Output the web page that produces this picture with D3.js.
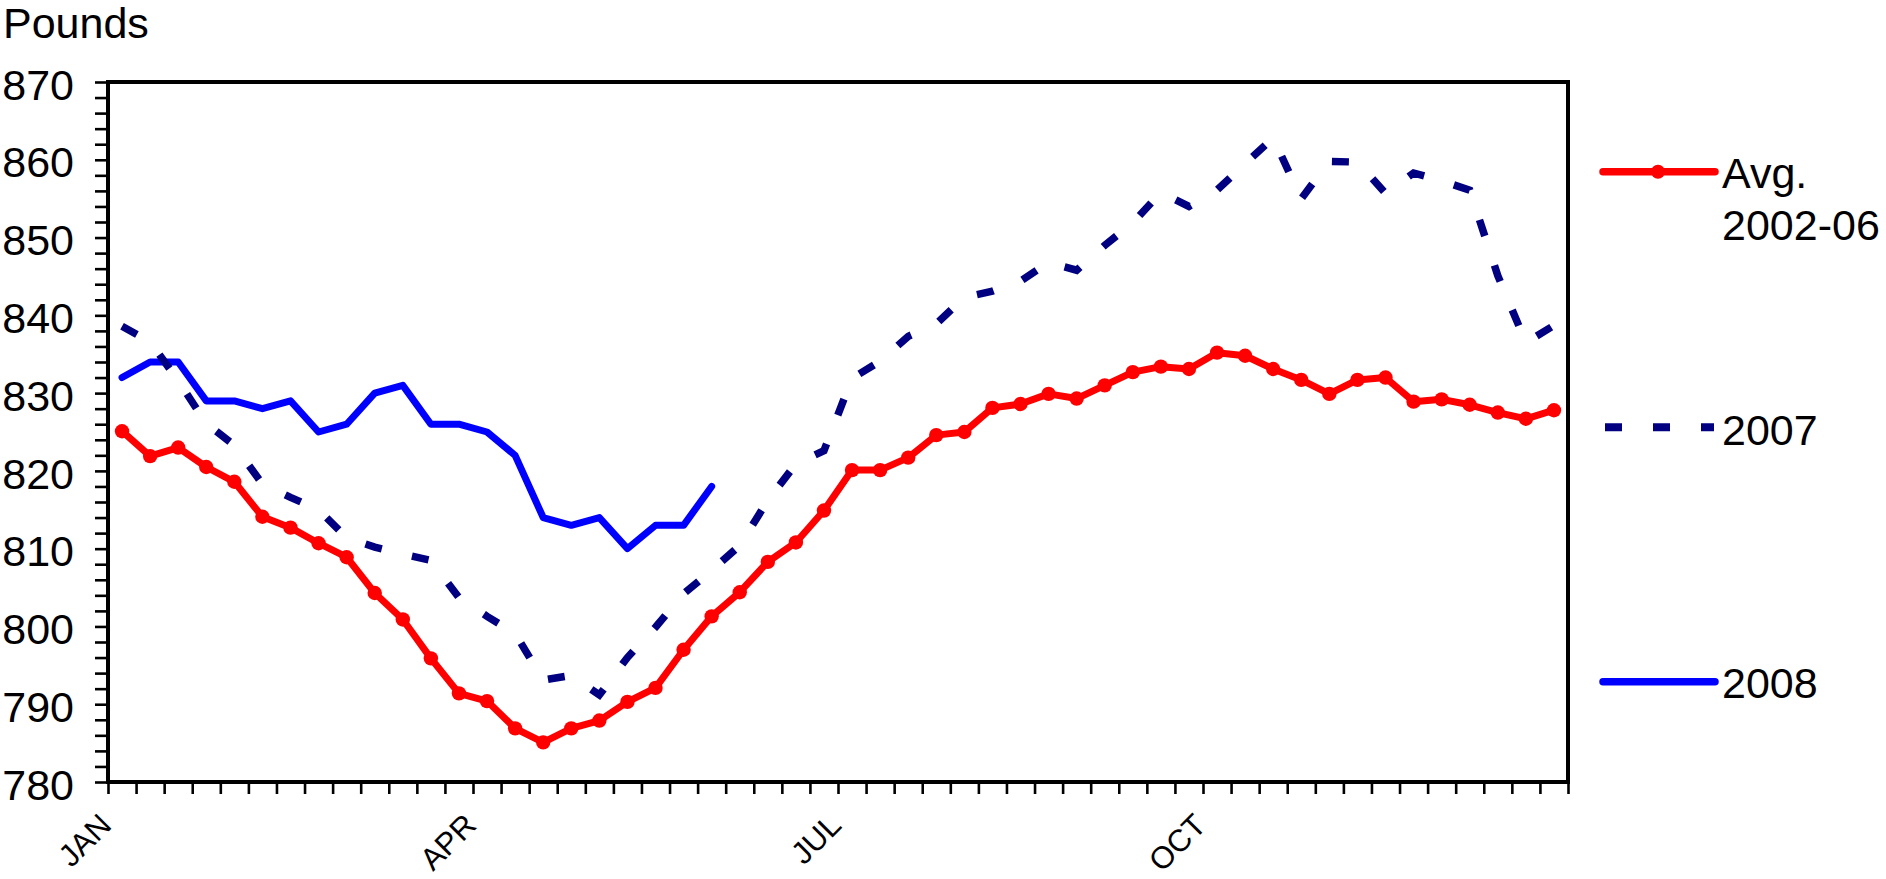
<!DOCTYPE html>
<html>
<head>
<meta charset="utf-8">
<script src="https://cdn.jsdelivr.net/npm/d3@7"></script>
<style>
  html, body { margin: 0; padding: 0; background: #fff; }
  svg { display: block; }
  text { font-family: "Liberation Sans", Arial, sans-serif; fill: #000; }
</style>
</head>
<body>
<svg id="chart" width="1886" height="879"></svg>
<script>
// ---- data ----
const weeks = d3.range(1, 53); // week categories 1..52
const monthLabels = ["JAN", "APR", "JUL", "OCT"];
const monthBoundaries = [0, 13, 26, 39];
const yTickLabels = [780, 790, 800, 810, 820, 830, 840, 850, 860, 870];

const avg0206 = [825.1, 821.9, 823.0, 820.5, 818.6, 814.1, 812.7, 810.7, 808.9, 804.3,
                 800.9, 795.9, 791.4, 790.4, 786.9, 785.1, 786.9, 787.9, 790.3, 792.1,
                 797.0, 801.3, 804.4, 808.3, 810.8, 814.9, 820.1, 820.1, 821.7, 824.6,
                 825.0, 828.1, 828.6, 829.9, 829.3, 831.0, 832.7, 833.4, 833.1, 835.2,
                 834.8, 833.1, 831.7, 829.9, 831.7, 832.0, 828.9, 829.2, 828.5, 827.5,
                 826.7, 827.8];
const y2007 = [838.6, 836.6, 831.6, 826.1, 823.3, 818.3, 816.6, 815.0, 811.4, 810.2,
               809.3, 808.5, 803.7, 801.3, 799.1, 793.1, 793.7, 791.2, 796.0, 799.9,
               804.2, 807.2, 810.4, 816.2, 820.9, 822.6, 831.9, 834.1, 837.3, 838.9,
               842.3, 843.1, 844.4, 846.8, 845.8, 849.0, 851.9, 855.8, 854.0, 856.1,
               859.5, 862.8, 855.0, 859.8, 859.7, 855.7, 858.3, 857.3, 856.1, 845.1,
               836.5, 838.7];
const y2008 = [832, 834, 834, 829, 829, 828, 829, 825, 826, 830,
               831, 826, 826, 825, 822, 814, 813, 814, 810, 813,
               813, 818];

const seriesNames = ["Avg.", "2002-06", "2007", "2008"];

// ---- layout ----
const svg = d3.select("#chart");
const L = 108, R = 1568, T = 82, B = 782;

const x = d3.scaleLinear().domain([0, weeks.length]).range([L, R]);
const y = d3.scaleLinear().domain([780, 870]).range([B, T]);
const px = (d, i) => x(i + 0.5);

// Y axis
const yAxis = d3.axisLeft(y)
  .tickValues(d3.range(780, 871, 2))
  .tickSize(13)
  .tickPadding(21)
  .tickFormat(d => yTickLabels.includes(d) ? d : "");
const gy = svg.append("g").attr("transform", `translate(${L},0)`).call(yAxis);
gy.select(".domain").remove();
gy.selectAll(".tick line").attr("stroke", "#000").attr("stroke-width", 2.6);
gy.selectAll(".tick text")
  .attr("dy", "0.4em")
  .style("font-size", "43px")
  .style("font-family", '"Liberation Sans", Arial, sans-serif');

// X axis
const xAxis = d3.axisBottom(x)
  .tickValues(d3.range(0, weeks.length + 1))
  .tickSize(12)
  .tickFormat("");
const gx = svg.append("g").attr("transform", `translate(0,${B})`).call(xAxis);
gx.select(".domain").remove();
gx.selectAll(".tick line").attr("stroke", "#000").attr("stroke-width", 2.6);

// month labels
svg.append("g").selectAll("text")
  .data(monthLabels)
  .join("text")
  .attr("text-anchor", "end")
  .attr("transform", (d, i) => `translate(${x(monthBoundaries[i]) + 5},${B + 45}) rotate(-45)`)
  .style("font-size", "31px")
  .text(d => d);

// frame
svg.append("rect")
  .attr("x", L).attr("y", T)
  .attr("width", R - L).attr("height", B - T)
  .attr("fill", "none").attr("stroke", "#000").attr("stroke-width", 4);

// y title
svg.append("text").attr("x", 3).attr("y", 38).style("font-size", "43px").text("Pounds");

// lines
const line = d3.line().x(px).y(d => y(d));

svg.append("path").datum(y2008)
  .attr("d", line)
  .attr("fill", "none").attr("stroke", "#0000FF").attr("stroke-width", 7)
  .attr("stroke-linejoin", "round").attr("stroke-linecap", "round");

svg.append("path").datum(y2007)
  .attr("d", line)
  .attr("fill", "none").attr("stroke", "#000080").attr("stroke-width", 7.5)
  .attr("stroke-dasharray", "17,31")
  .attr("stroke-linejoin", "miter");

svg.append("path").datum(avg0206)
  .attr("d", line)
  .attr("fill", "none").attr("stroke", "#FF0000").attr("stroke-width", 7)
  .attr("stroke-linejoin", "round").attr("stroke-linecap", "round");

svg.append("g").selectAll("circle")
  .data(avg0206)
  .join("circle")
  .attr("cx", px).attr("cy", d => y(d))
  .attr("r", 7.2).attr("fill", "#FF0000");

// legend
const lg = svg.append("g");
lg.append("line").attr("x1", 1603).attr("x2", 1715).attr("y1", 171.7).attr("y2", 171.7)
  .attr("stroke", "#FF0000").attr("stroke-width", 7.5).attr("stroke-linecap", "round");
lg.append("circle").attr("cx", 1658).attr("cy", 171.7).attr("r", 7).attr("fill", "#FF0000");
lg.append("text").attr("x", 1722).attr("y", 188).style("font-size", "43px").text(seriesNames[0]);
lg.append("text").attr("x", 1722).attr("y", 240).style("font-size", "43px").text(seriesNames[1]);

lg.append("line").attr("x1", 1605).attr("x2", 1714).attr("y1", 427.3).attr("y2", 427.3)
  .attr("stroke", "#000080").attr("stroke-width", 8).attr("stroke-dasharray", "17,31");
lg.append("text").attr("x", 1722).attr("y", 445).style("font-size", "43px").text(seriesNames[2]);

lg.append("line").attr("x1", 1603).attr("x2", 1715).attr("y1", 681.7).attr("y2", 681.7)
  .attr("stroke", "#0000FF").attr("stroke-width", 7.5).attr("stroke-linecap", "round");
lg.append("text").attr("x", 1722).attr("y", 698).style("font-size", "43px").text(seriesNames[3]);
</script>
</body>
</html>
